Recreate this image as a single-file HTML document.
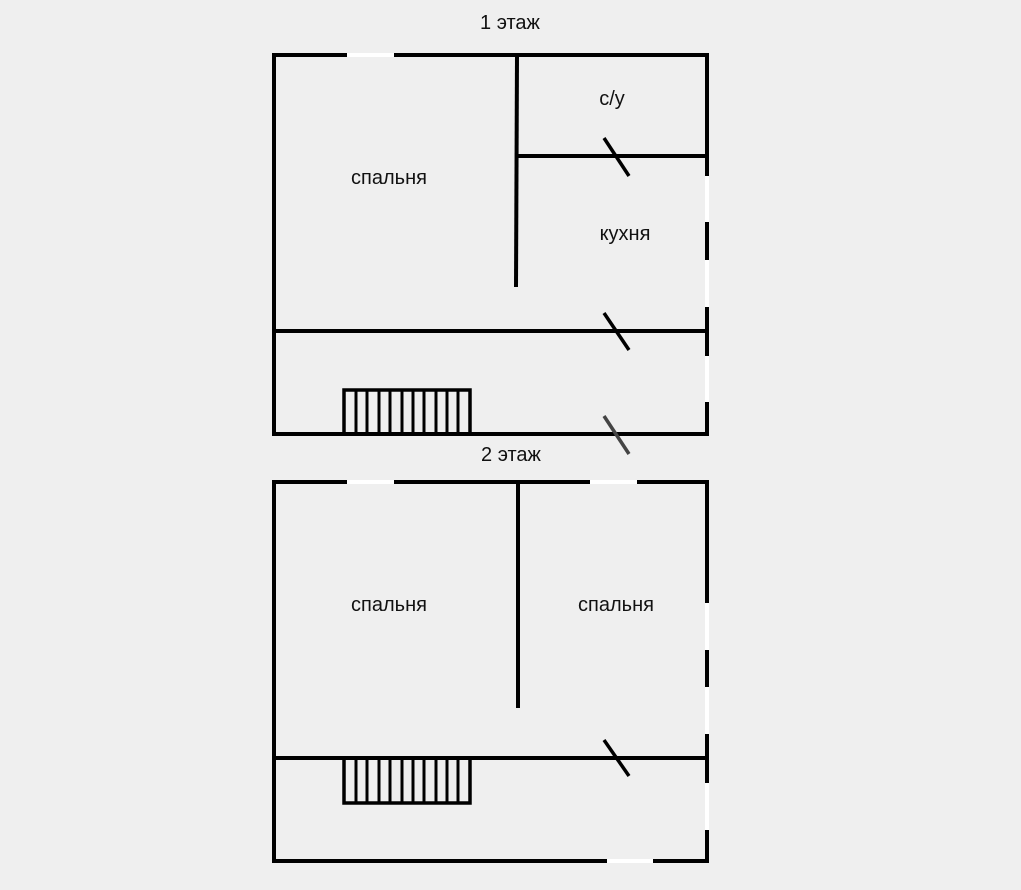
<!DOCTYPE html>
<html><head><meta charset="utf-8"><style>
html,body{margin:0;padding:0;background:#efefef;}
svg{display:block}
text{font-family:"Liberation Sans",sans-serif;font-size:20px;fill:#111;text-anchor:middle}
</style></head><body>
<svg width="1021" height="890" viewBox="0 0 1021 890" xmlns="http://www.w3.org/2000/svg">
<rect width="1021" height="890" fill="#efefef"/>
<g stroke="#fff" stroke-width="4">
<line x1="347" y1="55" x2="394" y2="55"/>
<line x1="707" y1="176" x2="707" y2="222"/>
<line x1="707" y1="260" x2="707" y2="307"/>
<line x1="707" y1="356" x2="707" y2="402"/>
<line x1="347" y1="482" x2="394" y2="482"/>
<line x1="590" y1="482" x2="637" y2="482"/>
<line x1="707" y1="603" x2="707" y2="650"/>
<line x1="707" y1="687" x2="707" y2="734"/>
<line x1="707" y1="783" x2="707" y2="830"/>
<line x1="607" y1="861" x2="653" y2="861"/>
</g>
<g stroke="#000" stroke-width="4" fill="none">
<polyline points="347,55 274,55 274,434 707,434"/>
<line x1="394" y1="55" x2="709" y2="55"/>
<line x1="707" y1="53" x2="707" y2="176"/>
<line x1="707" y1="222" x2="707" y2="260"/>
<line x1="707" y1="307" x2="707" y2="356"/>
<line x1="707" y1="402" x2="707" y2="436"/>
<line x1="517" y1="55" x2="516" y2="287"/>
<line x1="517" y1="156" x2="707" y2="156"/>
<line x1="274" y1="331" x2="707" y2="331"/>
<line x1="604" y1="138" x2="629" y2="176" stroke-width="3.5"/>
<line x1="604" y1="313" x2="629" y2="350" stroke-width="3.5"/>
<line x1="604" y1="416" x2="629" y2="454" stroke-width="3.5" stroke="#444"/>
<rect x="344" y="390" width="126" height="44" stroke-width="3.5"/>
<polyline points="347,482 274,482 274,861 607,861"/>
<line x1="394" y1="482" x2="590" y2="482"/>
<line x1="637" y1="482" x2="709" y2="482"/>
<line x1="653" y1="861" x2="709" y2="861"/>
<line x1="707" y1="480" x2="707" y2="603"/>
<line x1="707" y1="650" x2="707" y2="687"/>
<line x1="707" y1="734" x2="707" y2="783"/>
<line x1="707" y1="830" x2="707" y2="863"/>
<line x1="518" y1="482" x2="518" y2="708"/>
<line x1="274" y1="758" x2="707" y2="758"/>
<line x1="604" y1="740" x2="629" y2="776" stroke-width="3.5"/>
<rect x="344" y="758" width="126" height="45" stroke-width="3.5"/>
</g>
<g stroke="#000" stroke-width="3">
<line x1="356" y1="390" x2="356" y2="434"/><line x1="367" y1="390" x2="367" y2="434"/>
<line x1="379" y1="390" x2="379" y2="434"/><line x1="390" y1="390" x2="390" y2="434"/>
<line x1="402" y1="390" x2="402" y2="434"/><line x1="413" y1="390" x2="413" y2="434"/>
<line x1="424" y1="390" x2="424" y2="434"/><line x1="436" y1="390" x2="436" y2="434"/>
<line x1="447" y1="390" x2="447" y2="434"/><line x1="458" y1="390" x2="458" y2="434"/>
<line x1="356" y1="758" x2="356" y2="803"/><line x1="367" y1="758" x2="367" y2="803"/>
<line x1="379" y1="758" x2="379" y2="803"/><line x1="390" y1="758" x2="390" y2="803"/>
<line x1="402" y1="758" x2="402" y2="803"/><line x1="413" y1="758" x2="413" y2="803"/>
<line x1="424" y1="758" x2="424" y2="803"/><line x1="436" y1="758" x2="436" y2="803"/>
<line x1="447" y1="758" x2="447" y2="803"/><line x1="458" y1="758" x2="458" y2="803"/>
</g>
<text x="510" y="29">1 этаж</text>
<text x="511" y="461">2 этаж</text>
<text x="389" y="184">спальня</text>
<text x="612" y="105">с/у</text>
<text x="625" y="240">кухня</text>
<text x="389" y="611">спальня</text>
<text x="616" y="611">спальня</text>
</svg>
</body></html>
